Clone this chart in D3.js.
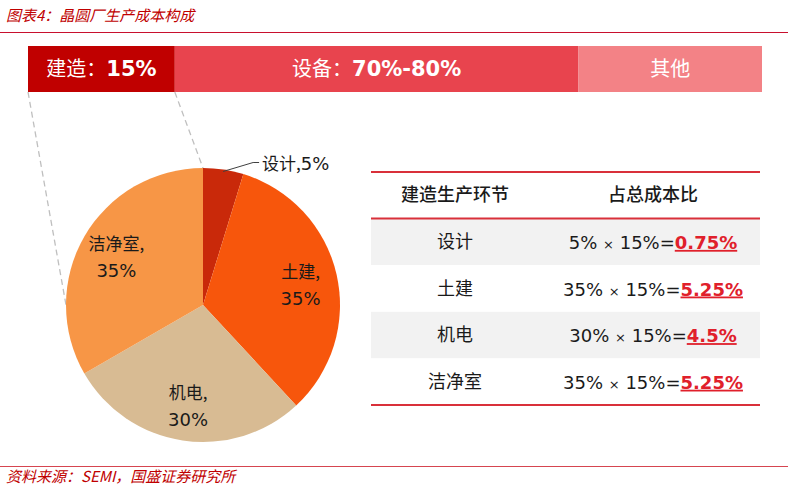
<!DOCTYPE html>
<html>
<head>
<meta charset="utf-8">
<script src="https://cdn.jsdelivr.net/npm/d3@7"></script>
<style>
  body { margin: 0; background: #fff; }
  text { font-family: "Noto Sans CJK SC", sans-serif; }
  .num { font-family: "DejaVu Sans", Verdana, sans-serif; }
</style>
</head>
<body>
<div id="chart"></div>
<script>
// Data
const title = '图表4：晶圆厂生产成本构成'
const source = '资料来源：SEMI，国盛证券研究所'

const barNames = ['建造：', '设备：', '其他']
const barValues = ['15%', '70%-80%', '']
const barShares = [20, 55, 25] // visual share of the top bar

const pieNames = ['设计', '土建', '机电', '洁净室']
const pieValues = [5, 35, 30, 35]
const pieColors = ['#c9290a', '#f7560c', '#d8bb93', '#f79646']

const tableHeader = ['建造生产环节', '占总成本比']
const buildShare = 15

function draw() {
  const width = 788, height = 486
  const svg = d3.select('#chart').append('svg')
    .attr('width', width).attr('height', height)

  // title + rules
  svg.append('text').attr('x', 6).attr('y', 21)
    .attr('fill', '#c00000').attr('font-size', 15).attr('font-style', 'italic')
    .text(title)
  svg.append('line').attr('x1', 0).attr('x2', width).attr('y1', 32.5).attr('y2', 32.5)
    .attr('stroke', '#c8102e').attr('stroke-width', 1.2)
  svg.append('line').attr('x1', 0).attr('x2', width).attr('y1', 466.5).attr('y2', 466.5)
    .attr('stroke', '#d64550').attr('stroke-width', 1)
  svg.append('text').attr('x', 6).attr('y', 482)
    .attr('fill', '#c00000').attr('font-size', 15).attr('font-style', 'italic')
    .text(source)

  // Top bar
  const bx = d3.scaleLinear().domain([0, d3.sum(barShares)]).range([28, 762])
  const starts = d3.cumsum([0].concat(barShares))
  const barColors = ['#c00000', '#e8444e', '#f38286']
  const barTop = 46, barH = 46
  const bars = svg.append('g')
  bars.selectAll('rect').data(barShares).join('rect')
    .attr('x', (d, i) => bx(starts[i]))
    .attr('width', (d, i) => bx(starts[i] + d) - bx(starts[i]))
    .attr('y', barTop).attr('height', barH)
    .attr('fill', (d, i) => barColors[i])
  bars.selectAll('text').data(barShares).join('text')
    .attr('x', (d, i) => bx(starts[i] + d / 2))
    .attr('y', barTop + barH / 2 + 7)
    .attr('text-anchor', 'middle').attr('fill', '#fff').attr('font-size', 20)
    .each(function (d, i) {
      const t = d3.select(this)
      t.append('tspan').text(barNames[i])
      if (barValues[i]) {
        t.append('tspan').attr('class', 'num').attr('font-weight', 'bold')
          .attr('font-family', '"DejaVu Sans Condensed", "DejaVu Sans", sans-serif')
          .attr('font-size', 21).text(barValues[i])
      }
    })

  // Pie
  const cx = 203, cy = 305, radius = 137
  const pie = d3.pie().value(d => d).sort(null)
  const slices = pie(pieValues)
  const arc = d3.arc().innerRadius(0).outerRadius(radius)
  const labelArc = d3.arc().innerRadius(100).outerRadius(100)

  // dashed zoom lines from bar to pie
  const dash = svg.append('g').attr('stroke', '#bfbfbf').attr('stroke-width', 1.3)
    .attr('stroke-dasharray', '6,4').attr('fill', 'none')
  dash.append('line').attr('x1', bx(0)).attr('y1', barTop + barH)
    .attr('x2', cx - radius).attr('y2', cy)
  dash.append('line').attr('x1', bx(barShares[0])).attr('y1', barTop + barH)
    .attr('x2', cx).attr('y2', cy - radius)

  const pg = svg.append('g').attr('transform', `translate(${cx},${cy})`)
  pg.selectAll('path').data(slices).join('path')
    .attr('d', arc)
    .attr('fill', (d, i) => pieColors[i])

  // two-line labels inside big slices
  pg.selectAll('text.lab').data(slices.slice(1)).join('text')
    .attr('class', 'lab')
    .attr('transform', d => {
      const [x, y] = labelArc.centroid(d)
      return `translate(${x},${y})`
    })
    .attr('text-anchor', 'middle').attr('font-size', 17).attr('fill', '#1a1a1a')
    .call(t => t.append('tspan').attr('x', 0).attr('y', -5).text(d => pieNames[d.index] + ','))
    .call(t => t.append('tspan').attr('class', 'num').attr('font-size', 18).attr('x', 0).attr('y', 22)
      .text(d => d.data + '%'))

  // small slice label with leader line
  const s0 = slices[0]
  const a0 = (s0.startAngle + s0.endAngle) / 2
  const p0 = [Math.sin(a0) * (radius - 2), -Math.cos(a0) * (radius - 2)]
  pg.append('path')
    .attr('d', d3.line()([p0, [p0[0] + 30, p0[1] - 9], [p0[0] + 36, p0[1] - 9]]))
    .attr('stroke', '#404040').attr('stroke-width', 1).attr('fill', 'none')
  pg.append('text').attr('x', p0[0] + 39).attr('y', p0[1] - 2)
    .attr('font-size', 17).attr('fill', '#1a1a1a')
    .call(t => t.append('tspan').text(pieNames[0] + ','))
    .call(t => t.append('tspan').attr('class', 'num').attr('font-size', 18).text(pieValues[0] + '%'))

  // Table
  const tx0 = 371, tx1 = 760
  const rowY = d3.scaleBand().domain(d3.range(pieNames.length + 1)).range([172, 405])
  const col1 = 455, col2 = 653
  const tg = svg.append('g')
  tg.selectAll('rect').data(pieNames).join('rect')
    .attr('x', tx0).attr('width', tx1 - tx0)
    .attr('y', (d, i) => rowY(i + 1)).attr('height', rowY.bandwidth())
    .attr('fill', (d, i) => i % 2 === 0 ? '#f2f2f2' : '#fff')
  tg.selectAll('line').data([rowY(0), rowY(1), rowY(pieNames.length) + rowY.bandwidth()]).join('line')
    .attr('x1', tx0).attr('x2', tx1).attr('y1', d => d).attr('y2', d => d)
    .attr('stroke', '#d9303a').attr('stroke-width', 2)
  tg.selectAll('text.head').data(tableHeader).join('text')
    .attr('class', 'head')
    .attr('x', (d, i) => i === 0 ? col1 : col2)
    .attr('y', rowY(0) + rowY.bandwidth() / 2 + 6)
    .attr('text-anchor', 'middle').attr('font-size', 18).attr('font-weight', 500)
    .attr('fill', '#1a1a1a').text(d => d)
  tg.selectAll('text.name').data(pieNames).join('text')
    .attr('class', 'name')
    .attr('x', col1).attr('y', (d, i) => rowY(i + 1) + rowY.bandwidth() / 2 + 6)
    .attr('text-anchor', 'middle').attr('font-size', 18).attr('fill', '#1a1a1a')
    .text(d => d)
  tg.selectAll('text.val').data(pieValues).join('text')
    .attr('class', 'val num')
    .attr('x', col2).attr('y', (d, i) => rowY(i + 1) + rowY.bandwidth() / 2 + 7)
    .attr('text-anchor', 'middle').attr('font-size', 18).attr('fill', '#1a1a1a')
    .call(t => t.append('tspan').text(d => `${d}% `))
    .call(t => t.append('tspan').attr('font-size', 13).text('×'))
    .call(t => t.append('tspan').text(` ${buildShare}%=`))
    .call(t => t.append('tspan').attr('fill', '#e0202b').attr('font-weight', 'bold')
      .attr('text-decoration', 'underline')
      .text(d => `${+(d * buildShare / 100).toFixed(2)}%`))
}

draw()
</script>
</body>
</html>
